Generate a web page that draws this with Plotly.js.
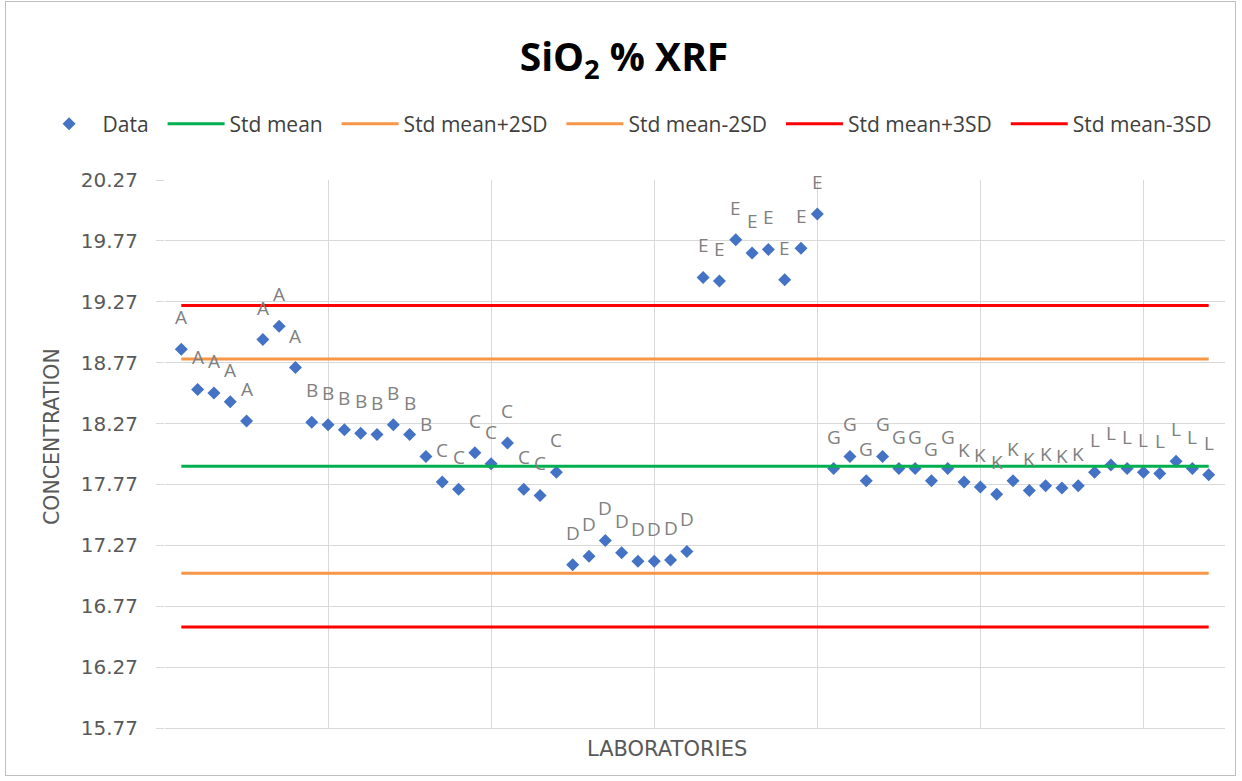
<!DOCTYPE html>
<html>
<head>
<meta charset="utf-8">
<script src="https://cdn.plot.ly/plotly-3.0.1.min.js"></script>
<style>
  html, body { margin: 0; padding: 0; background: #ffffff; }
  #chart { width: 1242px; height: 781px; }
  #frame { position: absolute; left: 5px; top: 1px; width: 1231px; height: 775px;
           border: 1px solid #bfbfbf; box-sizing: border-box; pointer-events: none; }
</style>
</head>
<body>
<div id="chart"></div>
<div id="frame"></div>
<script>
// ---- data ----
const labIndex = [1,2,3,4,5,6,7,8,9,10,11,12,13,14,15,16,17,18,19,20,21,22,23,24,25,26,27,28,29,30,31,32,
                  33,34,35,36,37,38,39,40,41,42,43,44,45,46,47,48,49,50,51,52,53,54,55,56,57,58,59,60,61,62,63,64];
const labCodes = ['A','A','A','A','A','A','A','A',
                  'B','B','B','B','B','B','B','B',
                  'C','C','C','C','C','C','C','C',
                  'D','D','D','D','D','D','D','D',
                  'E','E','E','E','E','E','E','E',
                  'G','G','G','G','G','G','G','G',
                  'K','K','K','K','K','K','K','K',
                  'L','L','L','L','L','L','L','L'];
const concentration = [18.88, 18.55, 18.52, 18.45, 18.29, 18.96, 19.07, 18.73,
                       18.28, 18.26, 18.22, 18.19, 18.18, 18.26, 18.18, 18.00,
                       17.79, 17.73, 18.03, 17.94, 18.11, 17.73, 17.68, 17.87,
                       17.11, 17.18, 17.31, 17.21, 17.14, 17.14, 17.15, 17.22,
                       19.47, 19.44, 19.78, 19.67, 19.70, 19.45, 19.71, 19.99,
                       17.90, 18.00, 17.80, 18.00, 17.90, 17.90, 17.80, 17.90,
                       17.79, 17.75, 17.69, 17.80, 17.72, 17.76, 17.74, 17.76,
                       17.87, 17.93, 17.90, 17.87, 17.86, 17.96, 17.90, 17.85];
const stdMean = 17.92;
const stdPlus2SD = 18.80;
const stdMinus2SD = 17.04;
const stdPlus3SD = 19.24;
const stdMinus3SD = 16.60;
const yTickVals = [15.77, 16.27, 16.77, 17.27, 17.77, 18.27, 18.77, 19.27, 19.77, 20.27];

// ---- chart ----
const FONT = 'Open Sans, Noto Sans, sans-serif';
const WIDE = 'DejaVu Sans, sans-serif';
const PAD = '\u00A0\u2009';
const lineX = [labIndex[0], labIndex[labIndex.length - 1]];
function refLine(name, v, color) {
  return { type: 'scatter', mode: 'lines', name: name + PAD, x: lineX, y: [v, v],
           line: { color: color, width: 3 }, hovertemplate: name + ': %{y:.2f}<extra></extra>' };
}

const traces = [
  { type: 'scatter', mode: 'markers', name: 'Data' + PAD, x: labIndex, y: concentration,
    text: labCodes, hovertemplate: 'Lab %{text}: %{y:.2f}<extra></extra>',
    marker: { symbol: 'diamond', size: 10, color: '#4472C4' } },
  refLine('Std mean', stdMean, '#00B050'),
  refLine('Std mean+2SD', stdPlus2SD, '#F79646'),
  refLine('Std mean-2SD', stdMinus2SD, '#F79646'),
  refLine('Std mean+3SD', stdPlus3SD, '#FF0000'),
  refLine('Std mean-3SD', stdMinus3SD, '#FF0000')
];

const labelAnn = labIndex.map((x, i) => ({
  x: x, y: concentration[i], xref: 'x', yref: 'y', text: labCodes[i],
  showarrow: false, yshift: 32, xanchor: 'center', yanchor: 'middle',
  font: { family: FONT, size: 19, color: '#808080' }
}));

const axisTitles = [
  { text: 'LABORATORIES', xref: 'paper', yref: 'paper', x: 0.4736, y: -0.0383,
    showarrow: false, xanchor: 'center', yanchor: 'middle',
    font: { family: WIDE, size: 21, color: '#595959' } },
  { text: 'CONCENTRATION', xref: 'paper', yref: 'paper', x: -0.1066, y: 0.531,
    showarrow: false, xanchor: 'center', yanchor: 'middle', textangle: -90,
    font: { family: WIDE, size: 20.5, color: '#595959' } }
];

const layout = {
  width: 1242, height: 781,
  margin: { l: 165, r: 17, t: 180, b: 53 },
  paper_bgcolor: '#ffffff', plot_bgcolor: '#ffffff',
  font: { family: FONT, size: 20, color: '#595959' },
  title: { text: 'SiO<sub>2</sub> % XRF', x: 0.5024, xanchor: 'center',
           y: 1 - 57 / 781, yanchor: 'middle', yref: 'container',
           font: { family: FONT, size: 39, color: '#000000', weight: 'bold' } },
  showlegend: true,
  legend: { orientation: 'h', x: -0.1221, xanchor: 'left', y: 1.1022, yanchor: 'middle',
            font: { family: FONT, size: 21, color: '#404040' }, itemwidth: 57,
            bgcolor: 'rgba(0,0,0,0)' },
  xaxis: { range: [0, 65], dtick: 10, tick0: 0, showgrid: true, gridcolor: '#d9d9d9', gridwidth: 1,
           zeroline: false, showticklabels: false, ticks: '', showline: true, linecolor: '#d9d9d9',
           linewidth: 1, fixedrange: true },
  yaxis: { range: [15.77, 20.27], tickvals: yTickVals, tickformat: '.2f', showgrid: true,
           gridcolor: '#d9d9d9', gridwidth: 1, zeroline: false, ticks: 'outside', ticklen: 8,
           tickcolor: '#d9d9d9', tickfont: { family: WIDE, size: 20, color: '#595959' },
           ticklabelstandoff: 14, showline: false, fixedrange: true },
  annotations: labelAnn.concat(axisTitles),
  hovermode: 'closest'
};

Plotly.newPlot('chart', traces, layout, { displayModeBar: false });
</script>
</body>
</html>
